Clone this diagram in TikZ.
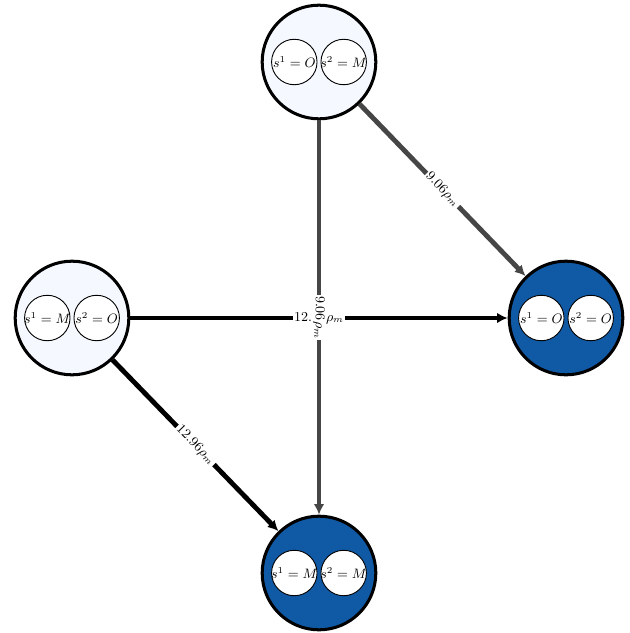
\documentclass[tikz,border=0pt]{standalone}
\usetikzlibrary{arrows.meta}

\definecolor{lightstate}{RGB}{245,249,255}
\definecolor{darkstate}{RGB}{16,89,165}
\definecolor{edgegray}{RGB}{70,70,70}

\begin{document}
\begin{tikzpicture}[x=0.66pt, y=-0.66pt,
	state/.style={ circle, draw, line width=2pt, inner sep=0pt, minimum size=75pt },
	statel/.style={ state, fill=lightstate },
	stated/.style={ state, fill=darkstate },
	agent/.style={ circle, draw, line width=0.6pt, fill=white, inner sep=-2pt, minimum size=30pt,
		font=\fontsize{8.8}{10}\selectfont },
	trans/.style={ line width=3.2pt, -{Latex[length=7pt,width=7pt]} },
	translabel/.style={ midway, sloped, fill=white, inner sep=1pt, font=\small }
]
\useasboundingbox (0,0) rectangle (629,633);

\node at (319,62) (sOM) [statel] {};
\node at (72,318) (sMO) [statel] {};
\node at (566,318) (sOO) [stated] {};
\node at (319,573) (sMM) [stated] {};

% the two agents inside each state
\foreach \n/\a/\b in {sOM/O/M, sMO/M/O, sOO/O/O, sMM/M/M} {
	\node at ([xshift=-16.3pt]\n.center) (\n1) [agent] {$s^1=\a$};
	\node at ([xshift=16.3pt]\n.center) (\n2) [agent] {$s^2=\b$};
}

\draw[trans] (sMO) to node[translabel] {$12.96\rho_m$} (sOO);
\draw[trans] (sMO) to node[translabel] {$12.96\rho_m$} (sMM);

\draw[trans, edgegray] (sOM) to node[translabel, text=black] {$9.06\rho_m$} (sOO);
\draw[trans, edgegray] (sOM) to node[translabel, text=black] {$9.06\rho_m$} (sMM);

\end{tikzpicture}
\end{document}
